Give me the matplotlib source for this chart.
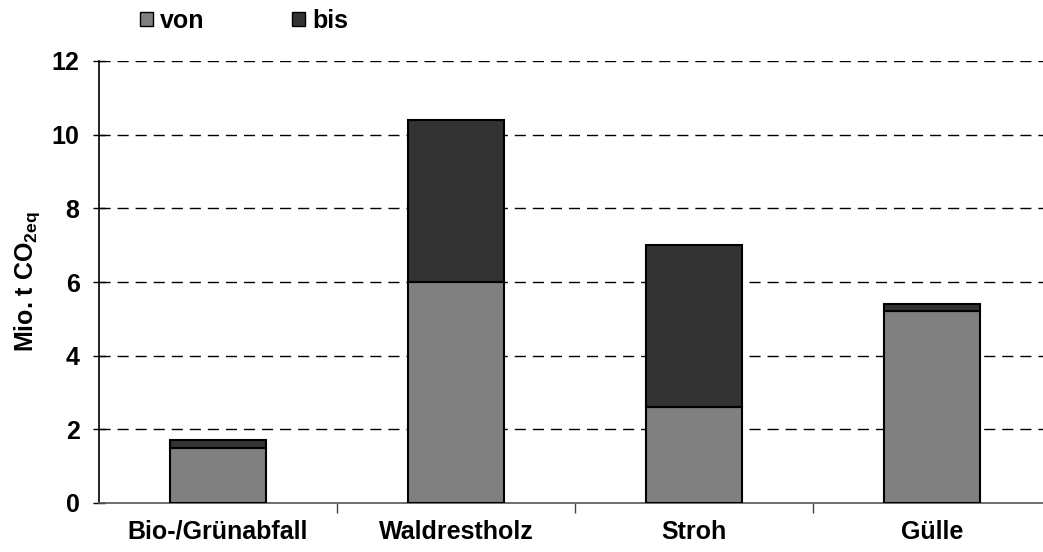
import matplotlib
matplotlib.use("Agg")
import matplotlib.pyplot as plt
from matplotlib.patches import Patch
import numpy as np

categories = ["Bio-/Grünabfall", "Waldrestholz", "Stroh", "Gülle"]
von = [1.5, 6.0, 2.6, 5.2]
bis_total = [1.7, 10.4, 7.0, 5.4]
bis_extra = [t - v for t, v in zip(bis_total, von)]

plt.rcParams["font.family"] = ["Liberation Sans", "DejaVu Sans"]
plt.rcParams["font.weight"] = "bold"
plt.rcParams["mathtext.fontset"] = "custom"
plt.rcParams["mathtext.rm"] = "Liberation Sans:bold"
plt.rcParams["mathtext.bf"] = "Liberation Sans:bold"

fs = 18

fig = plt.figure(figsize=(10.43, 5.52), dpi=100)
ax = fig.add_axes([99 / 1043, 49 / 552, 952 / 1043, 442 / 552])

x = np.arange(len(categories))
ax.bar(x, von, width=0.4, color="#808080", edgecolor="black", linewidth=1.5, zorder=3)
ax.bar(x, bis_extra, bottom=von, width=0.4, color="#333333", edgecolor="black",
       linewidth=1.5, zorder=3)

ax.set_xlim(-0.5, 3.5)
ax.set_ylim(0, 12)
ax.set_yticks(range(0, 13, 2))
for y in range(2, 13, 2):
    ax.axhline(y, color="black", linestyle=(0, (8, 5)), linewidth=1, zorder=1)

ax.set_xticks(x)
ax.set_xticklabels(categories, fontsize=fs, fontweight="bold")
ax.set_xticks([0.5, 1.5, 2.5], minor=True)
ax.tick_params(axis="x", which="major", length=0, pad=12)
ax.tick_params(axis="x", which="minor", length=7, width=1, direction="out", color="#444444")
ax.tick_params(axis="y", length=8, width=1, direction="inout", labelsize=fs, pad=10)
for lbl in ax.get_yticklabels():
    lbl.set_fontweight("bold")

for s in ["top", "right"]:
    ax.spines[s].set_visible(False)
ax.spines["left"].set_linewidth(1.2)
ax.spines["bottom"].set_color("#555555")
ax.spines["bottom"].set_linewidth(1.2)

ax.set_ylabel(r"Mio. t CO$_{\mathbf{2eq}}$", fontsize=fs, fontweight="bold", labelpad=7)

handles = [Patch(facecolor="#808080", edgecolor="black", linewidth=1),
           Patch(facecolor="#333333", edgecolor="black", linewidth=1)]
fig.legend(handles, ["von", "bis"], loc="upper left", bbox_to_anchor=(0.113, 1.025),
           ncol=2, frameon=False, handlelength=0.5, handleheight=0.5,
           handletextpad=0.3, columnspacing=3.5, prop={"weight": "bold", "size": fs})

fig.savefig("out.png", dpi=100)
